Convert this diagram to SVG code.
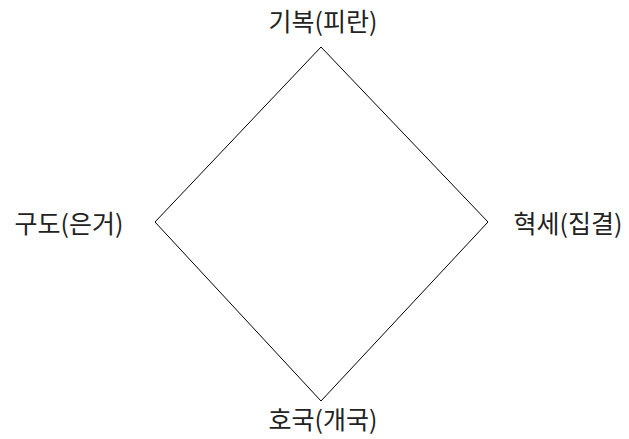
<svg xmlns="http://www.w3.org/2000/svg" width="629" height="439" viewBox="0 0 629 439">
<style>
text{font-family:"Noto Sans CJK KR","Noto Sans",sans-serif;font-size:25px;fill:#222;text-anchor:middle;dominant-baseline:central}
.edge{fill:none;stroke:#000;stroke-width:1}
</style>
<rect width="629" height="439" fill="#fff"/>
<g id="connectors">
<polygon class="edge" points="321,47 488,222 321,401 155,222"/>
</g>
<g id="top"><text x="323" y="20">기복(피란)</text></g>
<g id="left"><text x="69" y="222">구도(은거)</text></g>
<g id="right"><text x="568" y="222">혁세(집결)</text></g>
<g id="bottom"><text x="323" y="418">호국(개국)</text></g>
</svg>
